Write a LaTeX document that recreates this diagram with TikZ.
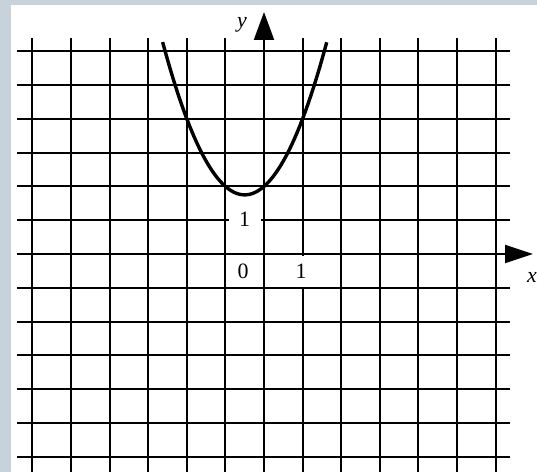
\documentclass[tikz,border=0pt]{standalone}
\usepackage{fontspec}
\setmainfont{Liberation Serif}
\usetikzlibrary{arrows.meta}
\definecolor{framegray}{RGB}{200,210,219}
\begin{document}
\begin{tikzpicture}[x=38.6bp,y=33.8bp,
  gridline/.style={line width=2.1bp,black},
  lbl/.style={font=\fontsize{22}{22}\selectfont, inner sep=0pt}]
\useasboundingbox[fill=white] (-6.8394,-6.4497) rectangle (7.0725,7.5148);
\fill[framegray] (-6.8394,-6.4497) rectangle (-6.554,7.5148);
\fill[framegray] (-6.8394,7.367) rectangle (7.0725,7.5148);
% grid
\foreach \i in {-6,...,-1,1,2,...,6} {
  \draw[gridline] (\i,-6.45) -- (\i,6.39);
}
\foreach \j in {-6,...,-1,1,2,...,6} {
  \draw[gridline] (-6.40,\j) -- (6.37,\j);
}
% axes
\coordinate (ybot) at (0,-6.45);
\coordinate (ytop) at (0,7.16);
\coordinate (xleft) at (-6.40,0);
\coordinate (xright) at (6.97,0);
\draw[gridline,-{Triangle[length=28bp,width=20bp]}] (ybot) -- (ytop);
\draw[gridline,-{Triangle[length=28bp,width=18bp]}] (xleft) -- (xright);
% parabola
\draw[line width=3.4bp,domain=-2.626:1.626,samples=120,smooth] plot (\x,{\x*\x+\x+2});
% labels
\node[lbl,fill=white,minimum width=32bp,minimum height=20bp] (oney) at (-0.505,1.04) {1};
\node[lbl,fill=white,minimum width=14bp,minimum height=31bp] (onex) at (0.96,-0.518) {1};
\node[lbl] (zero) at (-0.544,-0.50) {0};
\node[lbl,font=\fontsize{22}{22}\selectfont\itshape] (ylab) at (-0.57,6.78) {y};
\node[lbl,font=\fontsize{22}{22}\selectfont\itshape] (xlab) at (6.94,-0.68) {x};
\end{tikzpicture}
\end{document}
